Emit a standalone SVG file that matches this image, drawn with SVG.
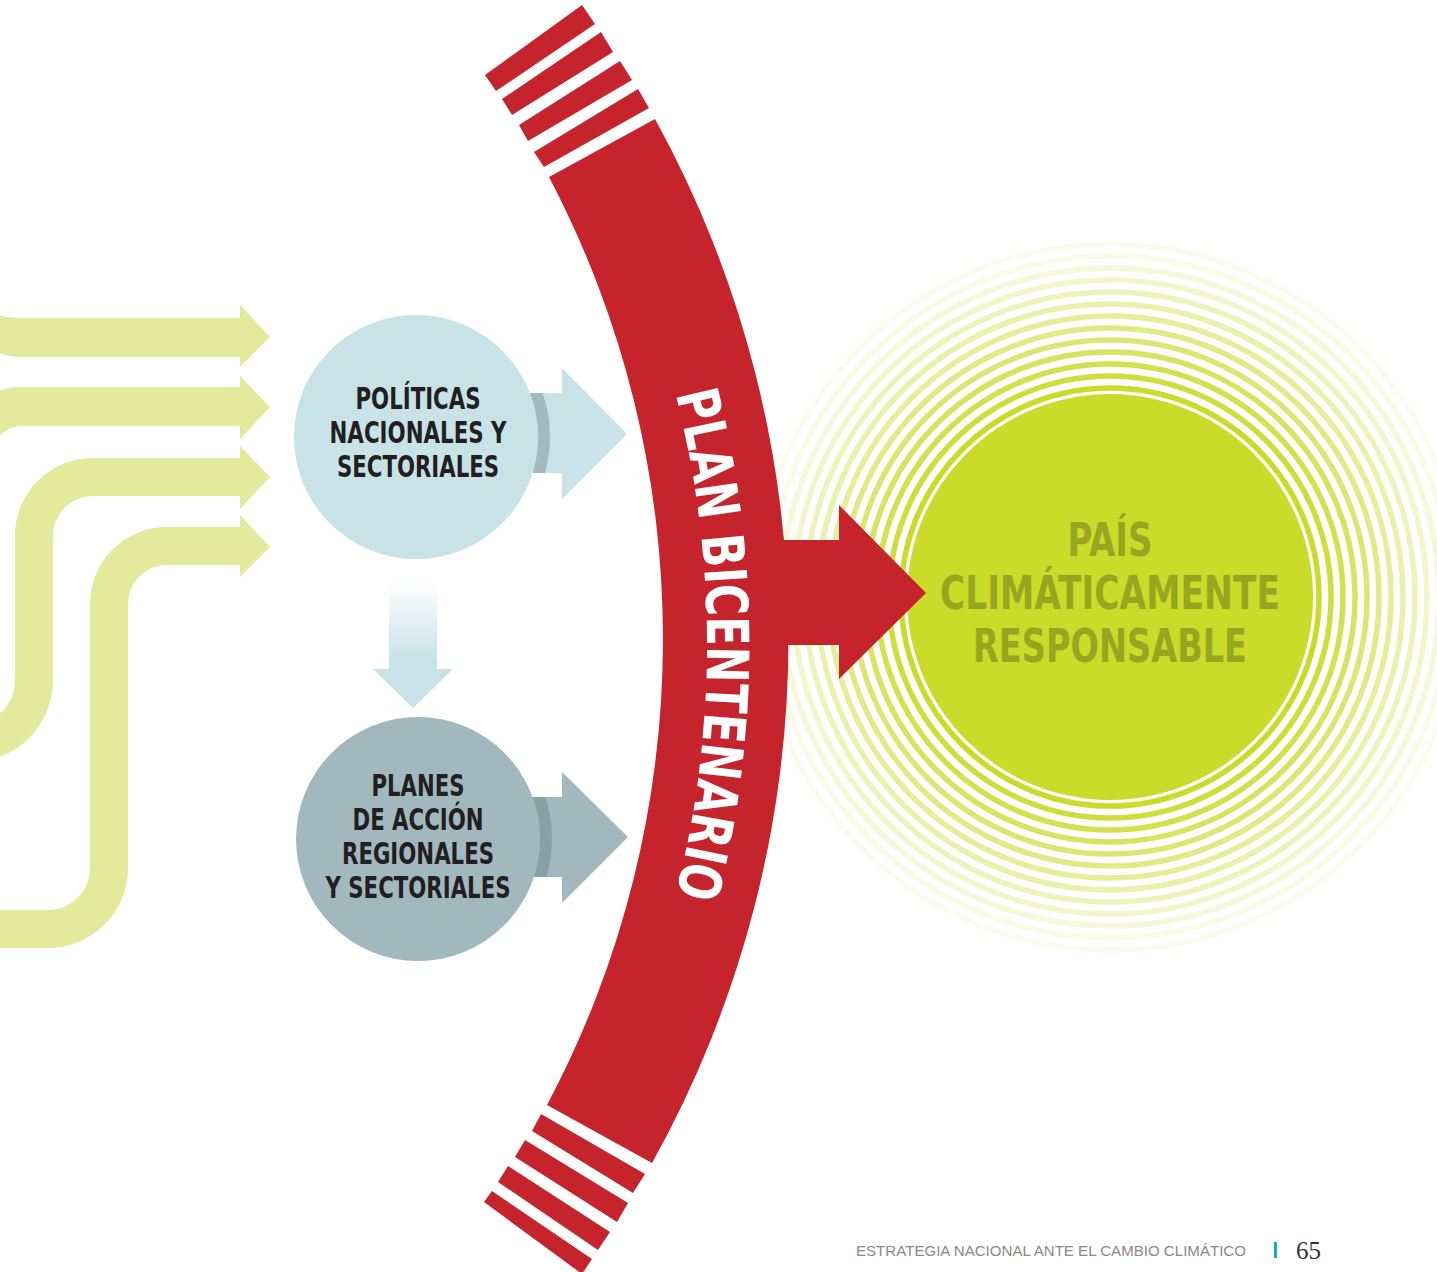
<svg xmlns="http://www.w3.org/2000/svg" width="1437" height="1272" viewBox="0 0 1437 1272">
<style>
.lbl{font-family:"Liberation Sans Narrow","DejaVu Sans Condensed","Liberation Sans",sans-serif;font-weight:bold;fill:#231f20;font-size:30px;text-anchor:middle}
.big{font-family:"Liberation Sans Narrow","DejaVu Sans Condensed","Liberation Sans",sans-serif;font-weight:bold;fill:#98a61f;font-size:47px;text-anchor:middle}
.ring{fill:none;stroke:#cadb2a;stroke-width:5.5}
.lime{fill:#e3ea9b}
.limes{fill:none;stroke:#e3ea9b;stroke-width:38}
.red{fill:#c6242c}
</style>
<defs>
<linearGradient id="down" x1="0" y1="580" x2="0" y2="660" gradientUnits="userSpaceOnUse">
<stop offset="0" stop-color="#ffffff"/>
<stop offset="1" stop-color="#c8e3e8"/>
</linearGradient>
<clipPath id="c1"><rect x="520" y="393" width="42" height="80"/></clipPath>
<clipPath id="c2"><rect x="520" y="797" width="42" height="80"/></clipPath>
<path id="arcText" d="M 667.7 365 A 1014 1014 0 0 1 667.7 924"/>
</defs>
<rect width="1437" height="1272" fill="#ffffff"/>

<g id="rings">
<circle class="ring" cx="1110" cy="597" r="209" opacity="1"/>
<circle class="ring" cx="1110" cy="597" r="221" opacity="0.92"/>
<circle class="ring" cx="1110" cy="597" r="233" opacity="0.84"/>
<circle class="ring" cx="1110" cy="597" r="245" opacity="0.75"/>
<circle class="ring" cx="1110" cy="597" r="257" opacity="0.66"/>
<circle class="ring" cx="1110" cy="597" r="269" opacity="0.57"/>
<circle class="ring" cx="1110" cy="597" r="281" opacity="0.48"/>
<circle class="ring" cx="1110" cy="597" r="293" opacity="0.40"/>
<circle class="ring" cx="1110" cy="597" r="305" opacity="0.32"/>
<circle class="ring" cx="1110" cy="597" r="317" opacity="0.25"/>
<circle class="ring" cx="1110" cy="597" r="329" opacity="0.18"/>
<circle class="ring" cx="1110" cy="597" r="341" opacity="0.12"/>
<circle class="ring" cx="1110" cy="597" r="353" opacity="0.07"/>
</g>

<g id="pais">
<circle cx="1110" cy="597" r="203" fill="#cadb2a"/>
<text class="big" x="1110" y="556" textLength="85" lengthAdjust="spacingAndGlyphs">PAÍS</text>
<text class="big" x="1110" y="609" textLength="340" lengthAdjust="spacingAndGlyphs">CLIMÁTICAMENTE</text>
<text class="big" x="1110" y="662" textLength="274" lengthAdjust="spacingAndGlyphs">RESPONSABLE</text>
</g>

<g id="connectors">
<g id="lime-arrows">
<path class="lime" d="M -5 314 Q 6 318 20 318 L 240 318 L 240 305 L 270 337 L 240 367 L 240 357 L 20 357 Q 6 357 -5 351 Z"/>
<path class="lime" d="M -5 393 Q 6 387 20 387 L 240 387 L 240 376 L 270 407 L 240 439 L 240 426 L 18 426 Q 6 428 -5 440 Z"/>
<path class="limes" d="M -40 743.4 L -29.4 743.4 A 63.4 63.4 0 0 0 34 680 L 34 536 A 59 59 0 0 1 93 477 L 241 477"/>
<path class="lime" d="M 240 446 L 270 477 L 240 509 Z"/>
<path class="limes" d="M -10 929 L 48 929 A 61 61 0 0 0 109 868 L 109 604 A 58 58 0 0 1 167 546 L 241 546"/>
<path class="lime" d="M 240 515 L 270 547 L 240 577 Z"/>
</g>
<g id="arrow-politicas">
<path d="M 520 393 L 562 393 L 562 368 L 627 434 L 562 499 L 562 473 L 520 473 Z" fill="#c8e3e8"/>
<circle cx="416" cy="437" r="128" fill="none" stroke="#a0babf" stroke-width="12" clip-path="url(#c1)"/>
</g>
<g id="arrow-planes">
<path d="M 520 797 L 562 797 L 562 772 L 628 837 L 562 903 L 562 877 L 520 877 Z" fill="#a1b9be"/>
<circle cx="418" cy="839" r="128" fill="none" stroke="#86a0a5" stroke-width="12" clip-path="url(#c2)"/>
</g>
<path id="arrow-down" d="M 389 580 L 437 580 L 437 669 L 453 669 L 413 708 L 373 669 L 389 669 Z" fill="url(#down)"/>
</g>

<g id="politicas">
<circle cx="416" cy="437" r="122" fill="#c8e3e8"/>
<text class="lbl" x="418" y="409" textLength="125" lengthAdjust="spacingAndGlyphs">POLÍTICAS</text>
<text class="lbl" x="418" y="443" textLength="177" lengthAdjust="spacingAndGlyphs">NACIONALES Y</text>
<text class="lbl" x="418" y="477" textLength="162" lengthAdjust="spacingAndGlyphs">SECTORIALES</text>
</g>

<g id="planes">
<circle cx="418" cy="839" r="122" fill="#a1b9be"/>
<text class="lbl" x="418" y="796" textLength="93" lengthAdjust="spacingAndGlyphs">PLANES</text>
<text class="lbl" x="418" y="830" textLength="131" lengthAdjust="spacingAndGlyphs">DE ACCIÓN</text>
<text class="lbl" x="418" y="864" textLength="152" lengthAdjust="spacingAndGlyphs">REGIONALES</text>
<text class="lbl" x="418" y="898" textLength="185" lengthAdjust="spacingAndGlyphs">Y SECTORIALES</text>
</g>

<g id="plan-bicentenario">
<path class="red" d="M 655 119 A 1077 1077 0 0 1 652 1163 L 547 1105 A 994 994 0 0 0 549 177 Z"/>
<polygon class="red" points="485,75 582,5 595,24 496,91"/>
<polygon class="red" points="502,99 601,32 613,52 512,115"/>
<polygon class="red" points="519,125 620,61 632,80 528,141"/>
<polygon class="red" points="534,152 638,89 649,108 544,167"/>
<polygon class="red" points="541,1114 645,1174 633,1193 532,1131"/>
<polygon class="red" points="525,1140 628,1203 617,1222 515,1157"/>
<polygon class="red" points="508,1166 610,1232 598,1250 498,1182"/>
<polygon class="red" points="492,1191 592,1259 582,1274 484,1202"/>
<path class="red" d="M 760 540 L 839 540 L 839 505 L 926 593 L 839 679 L 839 645 L 760 645 Z"/>
<text font-family="'Liberation Sans Narrow','DejaVu Sans Condensed','Liberation Sans',sans-serif" font-weight="bold" font-size="58" fill="#ffffff"><textPath href="#arcText" startOffset="50%" text-anchor="middle" textLength="506" lengthAdjust="spacingAndGlyphs">PLAN BICENTENARIO</textPath></text>
</g>

<g id="footer">
<text x="856" y="1256" font-family="'Liberation Sans',sans-serif" font-size="14.5" fill="#8a8a8a" textLength="390" lengthAdjust="spacingAndGlyphs">ESTRATEGIA NACIONAL ANTE EL CAMBIO CLIMÁTICO</text>
<rect x="1274" y="1242" width="3" height="16" fill="#1aa3dc"/>
<text x="1296" y="1259" font-family="'Liberation Serif',serif" font-size="25" fill="#333333">65</text>
</g>
</svg>
